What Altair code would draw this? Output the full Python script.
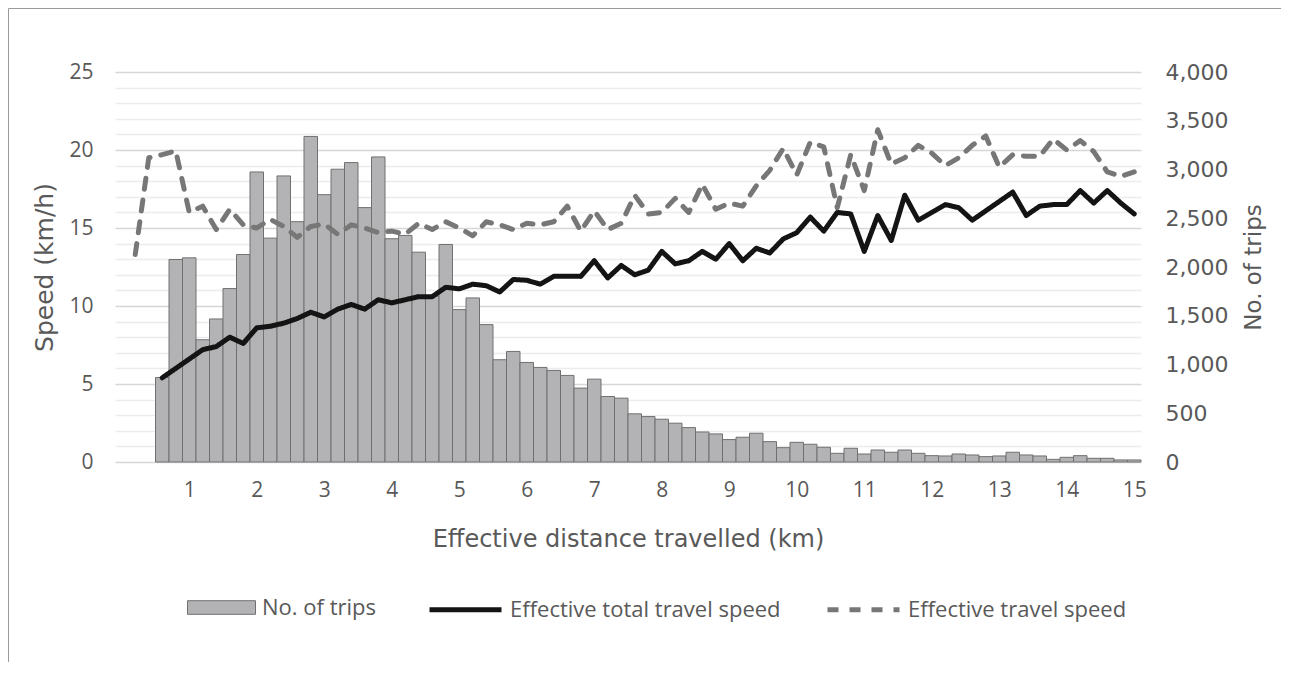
import altair as alt
import pandas as pd

# Bin centres of the distance classes (km) for the bars and the total-speed line
bar_km = [0.6, 0.8, 1.0, 1.2, 1.4, 1.6, 1.8, 2.0, 2.2, 2.4, 2.6, 2.8, 3.0, 3.2, 3.4, 3.6,
          3.8, 4.0, 4.2, 4.4, 4.6, 4.8, 5.0, 5.2, 5.4, 5.6, 5.8, 6.0, 6.2, 6.4, 6.6, 6.8,
          7.0, 7.2, 7.4, 7.6, 7.8, 8.0, 8.2, 8.4, 8.6, 8.8, 9.0, 9.2, 9.4, 9.6, 9.8, 10.0,
          10.2, 10.4, 10.6, 10.8, 11.0, 11.2, 11.4, 11.6, 11.8, 12.0, 12.2, 12.4, 12.6,
          12.8, 13.0, 13.2, 13.4, 13.6, 13.8, 14.0, 14.2, 14.4, 14.6, 14.8, 15.0]

trips = [867, 2077, 2094, 1254, 1467, 1779, 2128, 2975, 2296, 2934, 2465, 3339, 2742, 3003,
         3071, 2609, 3129, 2290, 2324, 2152, 1700, 2231, 1563, 1683, 1409, 1049, 1134, 1021,
         970, 939, 888, 758, 850, 672, 655, 494, 466, 439, 398, 353, 308, 288, 230, 254, 295,
         209, 147, 202, 182, 151, 89, 141, 82, 123, 100, 123, 89, 65, 62, 82, 72, 55, 62,
         100, 72, 62, 27, 48, 65, 38, 38, 21, 21]

total_speed = [5.4, 6.0, 6.6, 7.2, 7.4, 8.0, 7.6, 8.6, 8.7, 8.9, 9.2, 9.6, 9.3, 9.8, 10.1,
               9.8, 10.4, 10.2, 10.4, 10.6, 10.6, 11.2, 11.1, 11.4, 11.3, 10.9, 11.7, 11.65,
               11.4, 11.9, 11.9, 11.9, 12.9, 11.8, 12.6, 12.0, 12.3, 13.5, 12.7, 12.9, 13.5,
               13.0, 14.0, 12.9, 13.7, 13.4, 14.3, 14.7, 15.7, 14.8, 16.0, 15.9, 13.5, 15.8,
               14.2, 17.1, 15.5, 16.0, 16.5, 16.3, 15.5, 16.1, 16.7, 17.3, 15.8, 16.4, 16.5,
               16.5, 17.4, 16.6, 17.4, 16.6, 15.9]

# The effective-travel-speed line starts two classes earlier
eff_km = [0.2, 0.4] + bar_km
eff_speed = [13.3, 19.5, 19.7, 19.95, 16.0, 16.4, 14.9, 16.2, 15.2, 15.0, 15.55, 15.1, 14.4,
             15.1, 15.25, 14.6, 15.2, 15.0, 14.7, 14.8, 14.6, 15.3, 14.9, 15.4, 15.0, 14.5,
             15.4, 15.2, 14.9, 15.3, 15.2, 15.4, 16.4, 14.8, 16.1, 14.9, 15.3, 17.1, 15.9,
             16.0, 16.9, 16.0, 17.8, 16.2, 16.6, 16.4, 17.7, 18.7, 20.1, 18.4, 20.5, 20.2,
             16.3, 19.7, 17.4, 21.3, 19.1, 19.5, 20.3, 19.8, 19.0, 19.5, 20.3, 20.9, 18.9,
             19.7, 19.6, 19.6, 20.7, 20.0, 20.6, 19.9, 18.6, 18.3, 18.6]

x_ticks = [1, 2, 3, 4, 5, 6, 7, 8, 9, 10, 11, 12, 13, 14, 15]
speed_ticks = list(range(0, 26))
trip_ticks = [0, 500, 1000, 1500, 2000, 2500, 3000, 3500, 4000]

S_TOTAL = "Effective total travel speed"
S_EFF = "Effective travel speed"
S_TRIPS = "No. of trips"

half_bin = 0.1
bar_df = pd.DataFrame({
    "x0": [k - half_bin for k in bar_km],
    "x1": [k + half_bin for k in bar_km],
    "trips": trips,
    "bar_series": [S_TRIPS] * len(bar_km),
})
line_df = pd.concat([
    pd.DataFrame({"km": bar_km, "speed": total_speed, "series": S_TOTAL}),
    pd.DataFrame({"km": eff_km, "speed": eff_speed, "series": S_EFF}),
], ignore_index=True)

FONT = "Open Sans"
TFONT = "DejaVu Sans"
TXT = "#595959"

x_scale = alt.Scale(domain=[-0.1, 15.1], nice=False, zero=False)
x_axis = alt.Axis(values=x_ticks, title="Effective distance travelled (km)", grid=False,
                  ticks=False, domain=False, labelFont=FONT, labelFontSize=21,
                  labelColor=TXT, labelPadding=17, titleFont=TFONT, titleFontSize=24,
                  titleFontWeight="normal", titleColor=TXT, titlePadding=27)

bars = alt.Chart(bar_df).mark_rect(stroke="#707070", strokeWidth=1).encode(
    x=alt.X("x0:Q", scale=x_scale, axis=x_axis),
    x2="x1:Q",
    y=alt.Y("trips:Q", scale=alt.Scale(domain=[0, 4000], nice=False),
            axis=alt.Axis(orient="right", values=trip_ticks, format=",.0f", grid=False,
                          ticks=False, domain=False, labelFont=TFONT, labelFontSize=22,
                          labelColor=TXT, labelPadding=24, title="No. of trips",
                          titleAngle=270, titleBaseline="top", titleFont=TFONT,
                          titleFontSize=23, titleFontWeight="normal", titleColor=TXT,
                          titlePadding=15)),
    y2=alt.datum(0),
    fill=alt.Fill("bar_series:N", scale=alt.Scale(domain=[S_TRIPS], range=["#b3b3b6"]),
                  legend=alt.Legend(title=None, orient="none", legendX=72, legendY=501,
                                    symbolType="M-1,-0.2H1V0.2H-1Z", symbolSize=4624,
                                    symbolStrokeColor="#707070", symbolStrokeWidth=1,
                                    labelFont=FONT, labelFontSize=22, labelColor=TXT,
                                    labelOffset=6, labelLimit=400)),
)

line_legend = alt.Legend(title=None, orient="none", legendX=312, legendY=499,
                         direction="horizontal", symbolType="stroke", symbolSize=5184,
                         symbolStrokeWidth=5, labelFont=FONT, labelFontSize=22,
                         labelColor=TXT, labelOffset=6, labelLimit=400, columnPadding=36)
series_dom = [S_TOTAL, S_EFF]

lines = alt.Chart(line_df).mark_line(strokeWidth=5, strokeCap="round",
                                     strokeJoin="round").encode(
    x=alt.X("km:Q", scale=x_scale, axis=x_axis),
    y=alt.Y("speed:Q", scale=alt.Scale(domain=[0, 25], nice=False),
            axis=alt.Axis(orient="left", values=speed_ticks,
                          labelExpr="datum.value % 5 === 0 ? datum.label : ''",
                          grid=True,
                          gridColor={"condition": {"test": "datum.value % 5 === 0",
                                                   "value": "#d6d6d6"},
                                     "value": "#ececec"},
                          gridWidth=1.3, ticks=False, domain=False, labelFont=FONT,
                          labelFontSize=21, labelColor=TXT, labelPadding=22,
                          title="Speed (km/h)", titleFont=TFONT, titleFontSize=25,
                          titleFontWeight="normal", titleColor=TXT, titlePadding=11)),
    stroke=alt.Stroke("series:N", scale=alt.Scale(domain=series_dom,
                                                  range=["#141414", "#777777"]),
                      legend=line_legend),
    strokeDash=alt.StrokeDash("series:N", scale=alt.Scale(domain=series_dom,
                                                          range=[[1, 0], [11, 11]]),
                              legend=line_legend),
    detail="series:N",
)

# Outer frame of the figure (decoration, in pixel space)
frame = alt.Chart(pd.DataFrame({"f": [0]})).mark_rect(
    fill=None, stroke="#9a9a9a", strokeWidth=1
).encode(
    x=alt.value(-106.5), x2=alt.value(1200),
    y=alt.value(-63.5), y2=alt.value(640),
)

chart = alt.layer(bars, lines, frame).resolve_scale(y="independent").properties(
    width=1026, height=390,
    padding={"left": 107, "top": 64, "right": 140, "bottom": 200},
    autosize=alt.AutoSizeParams(type="none"),
    background="white",
).configure_view(stroke=None)

chart.save("out.html", embed_options={"renderer": "svg", "actions": False})
